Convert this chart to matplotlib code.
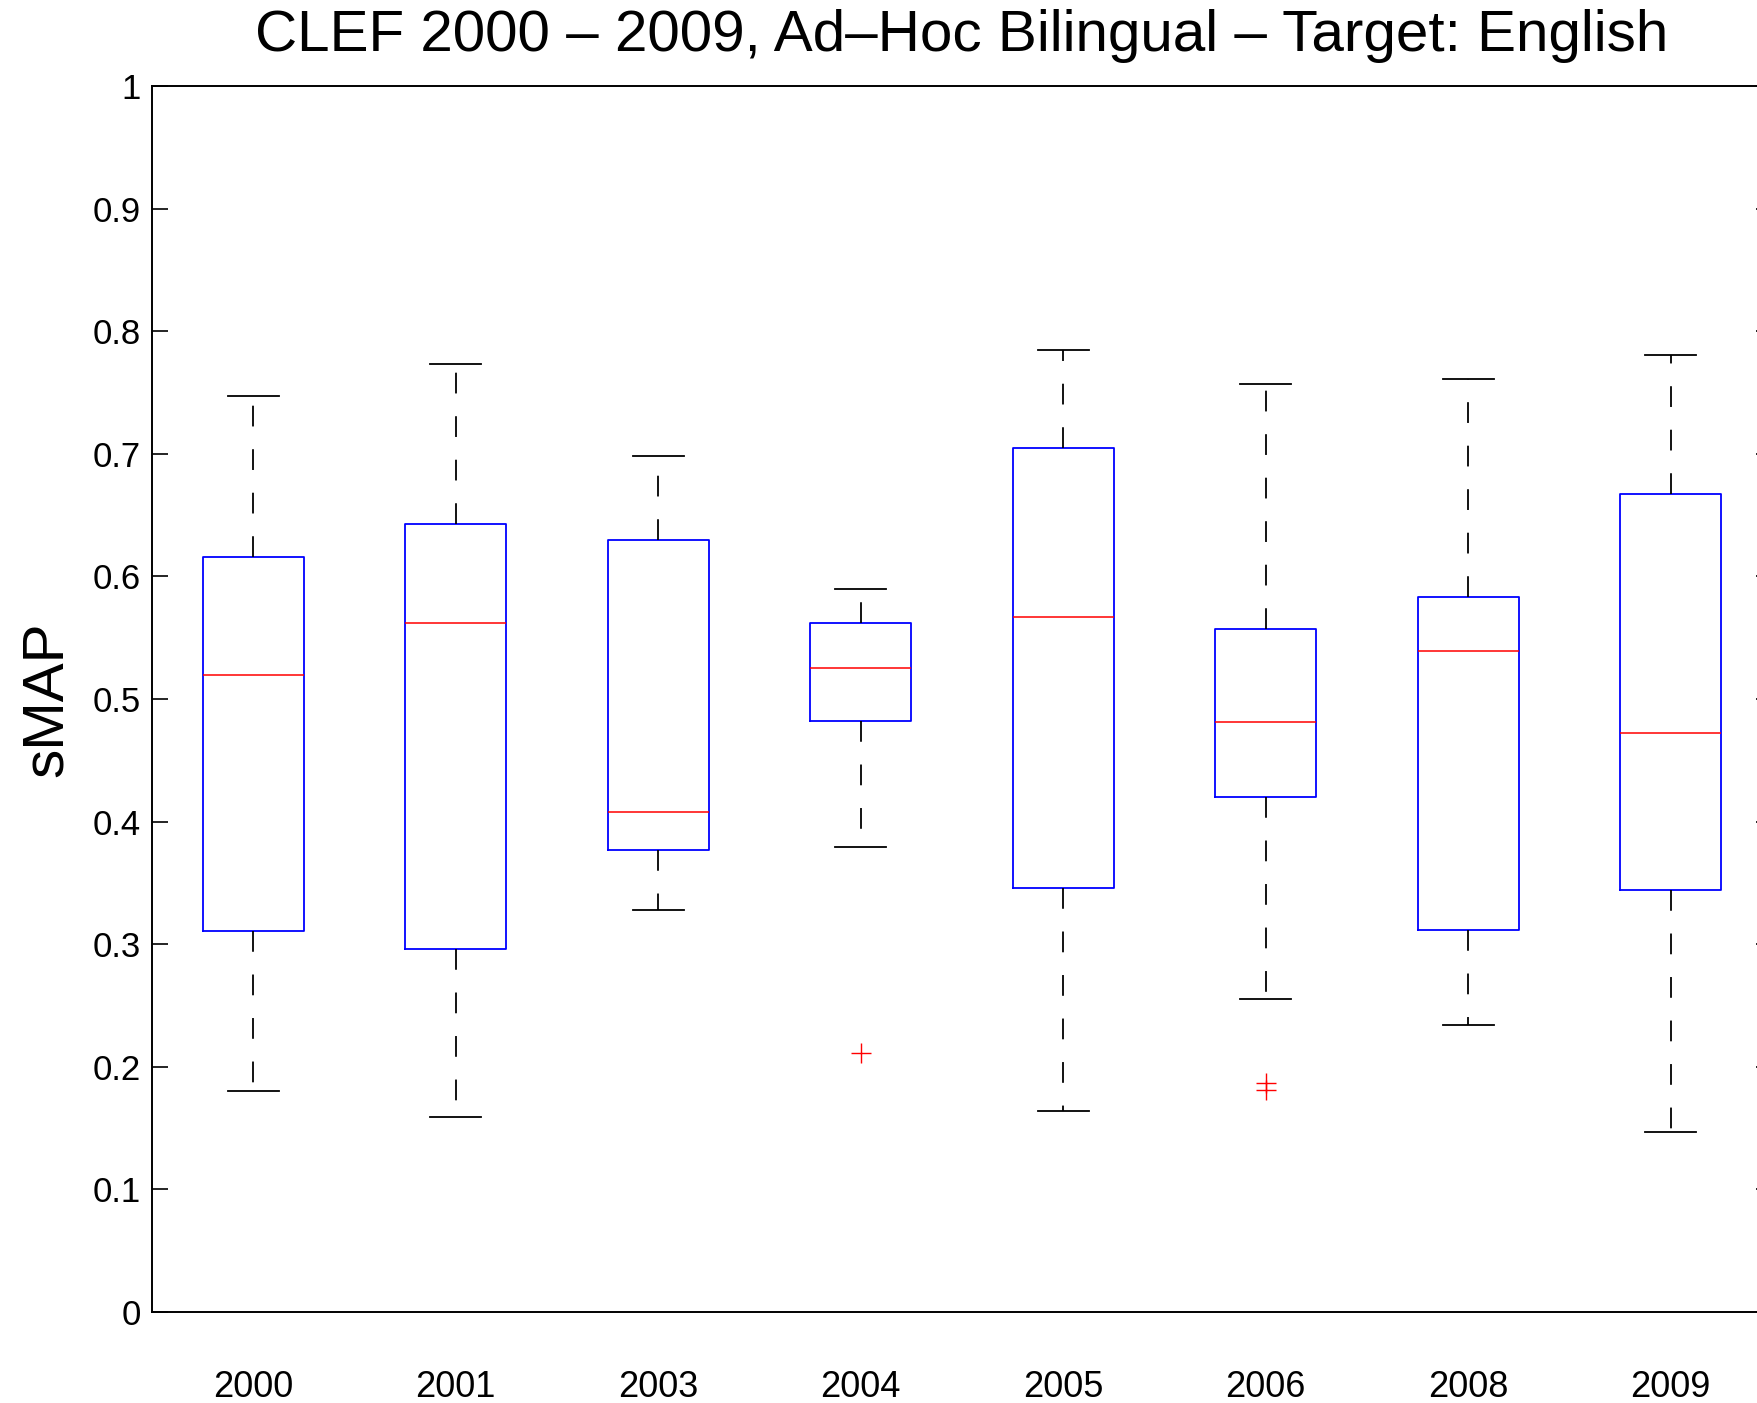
import matplotlib.pyplot as plt


years = ["2000", "2001", "2003", "2004", "2005", "2006", "2008", "2009"]

whisker_low = [0.180, 0.159, 0.328, 0.379, 0.164, 0.255, 0.234, 0.147]
q1 = [0.311, 0.296, 0.377, 0.482, 0.346, 0.420, 0.312, 0.344]
median = [0.520, 0.562, 0.408, 0.525, 0.567, 0.481, 0.539, 0.472]
q3 = [0.616, 0.643, 0.630, 0.562, 0.705, 0.557, 0.583, 0.667]
whisker_high = [0.747, 0.773, 0.698, 0.590, 0.785, 0.757, 0.761, 0.781]
outliers = [[], [], [], [0.211], [], [0.187, 0.181], [], []]

y_ticks = [0, 0.1, 0.2, 0.3, 0.4, 0.5, 0.6, 0.7, 0.8, 0.9, 1]
y_tick_labels = ["0", "0.1", "0.2", "0.3", "0.4", "0.5", "0.6", "0.7", "0.8", "0.9", "1"]


plt.rcParams.update({
    "font.family": ["Liberation Sans", "DejaVu Sans"],
    "axes.linewidth": 1.4,
})


stats = []
for i, year in enumerate(years):
    stats.append({
        "label": year,
        "whislo": whisker_low[i],
        "q1": q1[i],
        "med": median[i],
        "q3": q3[i],
        "whishi": whisker_high[i],
        "fliers": outliers[i],
    })

fig = plt.figure(figsize=(17.58, 14.03), dpi=100)
ax = fig.add_axes([0.08646, 0.06486, 0.9215, 0.8738])

ax.bxp(
    stats,
    positions=range(1, len(years) + 1),
    widths=0.5,
    showfliers=True,
    boxprops={"color": "#0000ff", "linewidth": 1.3},
    medianprops={"color": "#ff0000", "linewidth": 1.1},
    whiskerprops={"color": "black", "linewidth": 1.3,
                  "linestyle": (0, (11.5, 12.6))},
    capprops={"color": "black", "linewidth": 1.3},
    capwidths=0.25,
    flierprops={"marker": "+", "markeredgecolor": "#ff0000",
                "markersize": 15, "markeredgewidth": 1.0,
                "linestyle": "none"},
)

ax.set_xlim(0.5, len(years) + 0.5)
ax.set_ylim(0, 1)
ax.set_yticks(y_ticks)
ax.set_yticklabels(y_tick_labels)
ax.set_xticks(range(1, len(years) + 1))
ax.set_xticklabels(years)

ax.tick_params(axis="y", direction="in", length=11.5, width=1.2,
               labelsize=25, right=True, pad=8)
ax.tick_params(axis="x", length=0, labelsize=26, pad=42)

ax.set_ylabel("sMAP", fontsize=42)
ax.yaxis.set_label_coords(-0.048, 0.5)
ax.set_title("CLEF 2000 \u2013 2009, Ad\u2013Hoc Bilingual \u2013 Target: English",
             fontsize=42, pad=25)

fig.savefig("out.png", dpi=100)
